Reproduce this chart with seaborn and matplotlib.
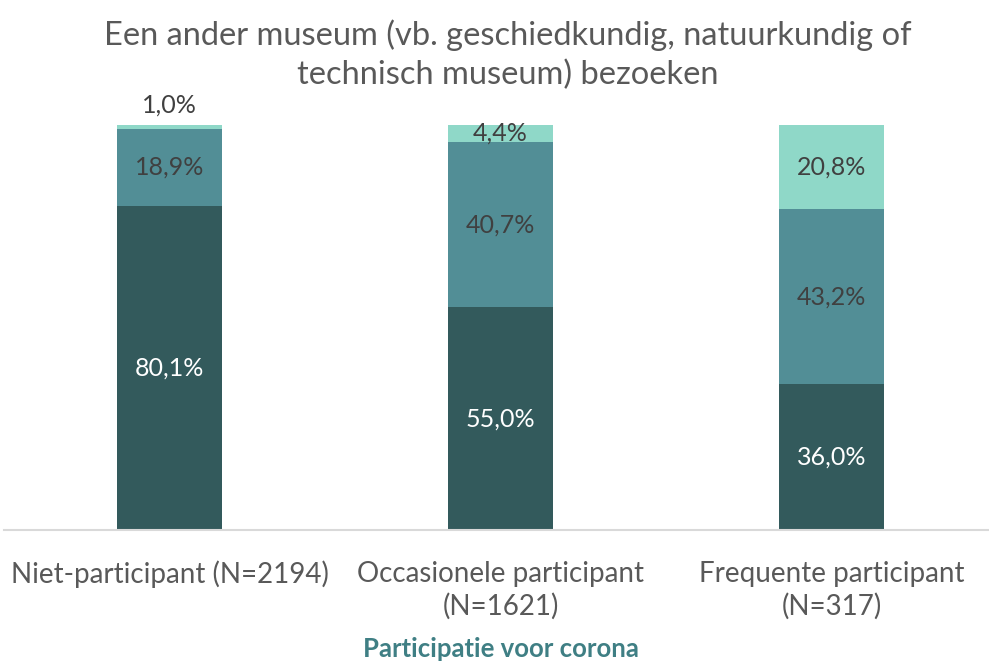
import pandas as pd
import seaborn as sns
import matplotlib.pyplot as plt

# Data
categories = ["Niet-participant (N=2194)", "Occasionele participant\n(N=1621)", "Frequente participant\n(N=317)"]
nooit = [80.1, 55.0, 36.0]
soms = [18.9, 40.7, 43.2]
vaak = [1.0, 4.4, 20.8]

colors = ["#335a5c", "#528e96", "#8fd8c8"]
label_colors = ["white", "#404040", "#404040"]

sns.set_theme(style="white")
plt.rcParams["font.family"] = ["Lato", "DejaVu Sans"]

df = pd.DataFrame({"cat": categories, "nooit": nooit, "soms": soms, "vaak": vaak})

fig = plt.figure(figsize=(9.89, 6.63), dpi=100)
ax = fig.add_axes([4 / 989, 133 / 663, 993 / 989, 405 / 663])

bottom = [0.0, 0.0, 0.0]
for i, field in enumerate(["nooit", "soms", "vaak"]):
    sns.barplot(data=df, x="cat", y=field, color=colors[i], bottom=bottom,
                width=0.317, ax=ax, saturation=1, linewidth=0, errorbar=None)
    for j, v in enumerate(df[field]):
        txt = f"{v:.1f}%".replace(".", ",")
        if v < 2:
            ax.text(j, bottom[j] + v + 2.2, txt, ha="center", va="bottom",
                    fontsize=18, color="#404040")
        else:
            ax.text(j, bottom[j] + v / 2, txt, ha="center", va="center",
                    fontsize=18, color=label_colors[i])
    bottom = [b + v for b, v in zip(bottom, df[field])]

ax.set_ylim(0, 100)
ax.set_xlim(-0.5, 2.5)
ax.set_yticks([])
for s in ["top", "right", "left"]:
    ax.spines[s].set_visible(False)
ax.spines["bottom"].set_color("#d9d9d9")
ax.spines["bottom"].set_linewidth(1.5)
ax.tick_params(axis="x", length=0, pad=22, labelsize=20, labelcolor="#595959")
for lab in ax.get_xticklabels():
    lab.set_linespacing(1.3)
ax.set_ylabel("")
ax.set_xlabel("Participatie voor corona", fontsize=18.5, fontweight="bold",
              color="#3f7f84", labelpad=12)

fig.text(0.513, 0.918, "Een ander museum (vb. geschiedkundig, natuurkundig of\ntechnisch museum) bezoeken",
         ha="center", va="center", fontsize=23.5, color="#595959", linespacing=1.35)

plt.savefig("out.png", dpi=100)
